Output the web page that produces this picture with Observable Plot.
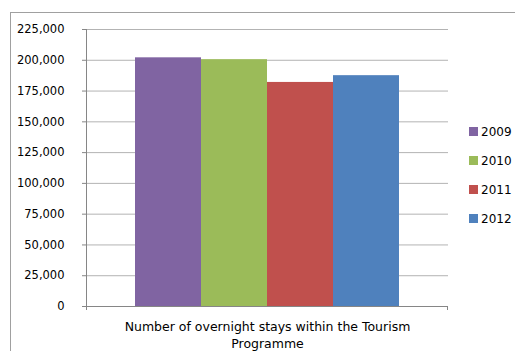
<!DOCTYPE html>
<html>
<head>
<meta charset="utf-8">
<script src="https://cdn.jsdelivr.net/npm/d3@7"></script>
<script src="https://cdn.jsdelivr.net/npm/@observablehq/plot@0.6"></script>
<style>
  html, body { margin: 0; padding: 0; background: #fff; }
  #wrap { position: relative; width: 515px; height: 351px; overflow: hidden; font-family: "DejaVu Sans", Verdana, sans-serif; }
  #border { position: absolute; left: 10px; top: 12px; width: 520px; height: 360px;
            border-left: 1px solid #a0a0a0; border-top: 1px solid #a0a0a0; }
  #chart { position: absolute; left: 0; top: 0; }
  #legend { position: absolute; left: 469px; top: 117px; }
  .item { display: flex; align-items: center; height: 29px; font-size: 12px; color: #000; }
  .sw { width: 9px; height: 9px; margin-right: 3px; }
</style>
</head>
<body>
<div id="wrap">
  <div id="border"></div>
  <div id="chart"></div>
  <div id="legend"></div>
</div>
<script>
// Overnight stays within the Tourism Programme, by year
const years = ["2009", "2010", "2011", "2012"];
const stays = [202000, 200500, 182000, 187500];
const colors = ["#8064A2", "#9BBB59", "#C0504D", "#4F81BD"];
const yTicks = [0, 25000, 50000, 75000, 100000, 125000, 150000, 175000, 200000, 225000];
const categoryLabel = "Number of overnight stays within the Tourism\nProgramme";

const data = years.map((y, i) => ({year: y, value: stays[i]}));

// Axis frame: vertical axis line and the bottom line with end ticks
function axisFrame(index, scales, values, dims) {
  const g = d3.create("svg:g").attr("stroke", "#868686").attr("fill", "none");
  const x0 = dims.marginLeft, x1 = dims.width - dims.marginRight;
  const yTop = dims.marginTop, yBot = dims.height - dims.marginBottom;
  g.append("line").attr("x1", x0 + 0.5).attr("x2", x0 + 0.5).attr("y1", yTop).attr("y2", yBot + 4);
  g.append("line").attr("x1", x0).attr("x2", x1).attr("y1", yBot + 0.5).attr("y2", yBot + 0.5);
  g.append("line").attr("x1", x1 - 0.5).attr("x2", x1 - 0.5).attr("y1", yBot).attr("y2", yBot + 4);
  return g.node();
}

const chart = Plot.plot({
  width: 515,
  height: 351,
  marginLeft: 86,
  marginRight: 67,
  marginTop: 29,
  marginBottom: 45,
  style: {fontFamily: "'DejaVu Sans', Verdana, sans-serif", fontSize: "11.5px", color: "#000", background: "transparent"},
  x: {domain: years, paddingInner: 0, paddingOuter: 0.742, axis: null},
  y: {domain: [0, 225000], label: null},
  color: {domain: years, range: colors},
  marks: [
    Plot.gridY(yTicks.filter(d => d > 0), {stroke: "#b3b3b3", strokeOpacity: 1}),
    Plot.barY(data, {x: "year", y: "value", fill: "year"}),
    Plot.axisY(yTicks, {label: null, tickSize: 4, tickPadding: 18, tickFormat: d3.format(","), stroke: "#868686", fill: "#000", fontSize: "11.5px"}),
    axisFrame,
    Plot.text([categoryLabel], {frameAnchor: "bottom", lineAnchor: "top", dy: 13, lineHeight: 1.33, fontSize: 12.5, fill: "#000"})
  ]
});
document.getElementById("chart").appendChild(chart);

// Legend column on the right
const legend = d3.select("#legend");
years.forEach((y, i) => {
  const item = legend.append("div").attr("class", "item");
  item.append("div").attr("class", "sw").style("background", colors[i]);
  item.append("span").text(y);
});
</script>
</body>
</html>
